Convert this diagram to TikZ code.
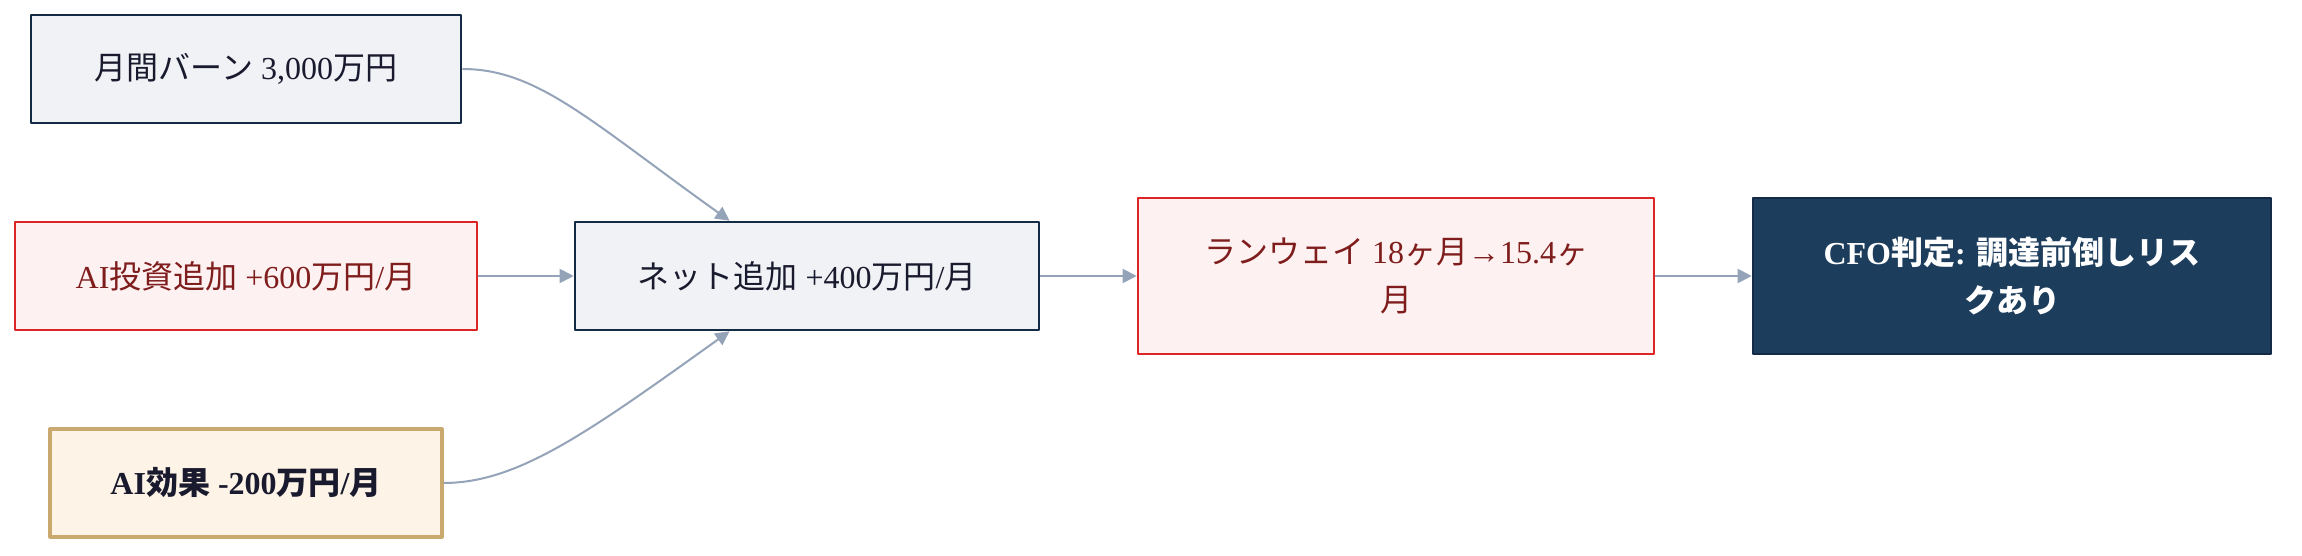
\documentclass[tikz,border=0pt]{standalone}
\usepackage{fontspec}
\setmainfont{Liberation Serif}
\newfontfamily\jp{Noto Sans CJK JP}
\usetikzlibrary{arrows.meta,calc}
\definecolor{navy}{HTML}{142B45}
\definecolor{navyfill}{HTML}{1C3D5C}
\definecolor{grayfill}{HTML}{F0F2F5}
\definecolor{inkdark}{HTML}{1A1A2E}
\definecolor{alertred}{HTML}{DC2626}
\definecolor{alertfill}{HTML}{FEF1F1}
\definecolor{alertink}{HTML}{7F1D1D}
\definecolor{tanline}{HTML}{C9A96E}
\definecolor{tanfill}{HTML}{FDF4E7}
\definecolor{flowline}{HTML}{94A3B8}
\begin{document}
\begin{tikzpicture}[x=.5pt, y=.5pt, font=\fontsize{16}{24}\selectfont, line join=round,
	box/.style={draw, line width=1.3pt, inner sep=0pt, minimum height=54pt, align=center},
	basebox/.style={box, draw=navy, fill=grayfill, text=inkdark},
	warnbox/.style={box, draw=alertred, fill=alertfill, text=alertink},
	gainbox/.style={box, draw=tanline, line width=1.6pt, fill=tanfill, text=inkdark, font=\fontsize{16}{24}\selectfont\bfseries},
	verdictbox/.style={box, draw=navy, fill=navyfill, text=white, minimum height=78pt, font=\fontsize{16}{24}\selectfont\bfseries},
	flow/.style={draw=flowline, line width=1pt, -{Triangle[length=7pt, width=7pt]}}]
	\useasboundingbox (0,0) rectangle (2302,556);
	\node[basebox, minimum width=215pt] (burn) at (246,487) {{\jp 月間バーン} 3,000{\jp 万円}};
	\node[warnbox, minimum width=231pt] (invest) at (246,280) {AI{\jp 投資追加} +600{\jp 万円}/{\jp 月}};
	\node[gainbox, minimum width=196pt] (effect) at (246,73) {AI{\jp 効果} -200{\jp 万円}/{\jp 月}};
	\node[basebox, minimum width=232pt] (net) at (807,280) {{\jp ネット追加} +400{\jp 万円}/{\jp 月}};
	\node[warnbox, minimum width=258pt, minimum height=78pt] (runway) at (1396,280) {{\jp ランウェイ} 18{\jp ヶ月}→15.4{\jp ヶ}\\{\jp 月}};
	\node[verdictbox, minimum width=259pt] (cfo) at (2012,280) {CFO{\jp 判定}: {\jp 調達前倒しリス}\\{\jp クあり}};
	\coordinate (netin1) at ($(net.north west)!.334!(net.north east)$);
	\coordinate (netin2) at ($(net.south west)!.334!(net.south east)$);
	\draw[flow] (burn.east) .. controls ($(burn.east)+(75,0)$) and ($(netin1)+(-140,100)$) .. (netin1);
	\draw[flow] (effect.east) .. controls ($(effect.east)+(75,0)$) and ($(netin2)+(-140,-100)$) .. (netin2);
	\foreach \a/\b in {invest/net, net/runway, runway/cfo}
	\draw[flow] (\a.east) -- (\b.west);
\end{tikzpicture}
\end{document}
